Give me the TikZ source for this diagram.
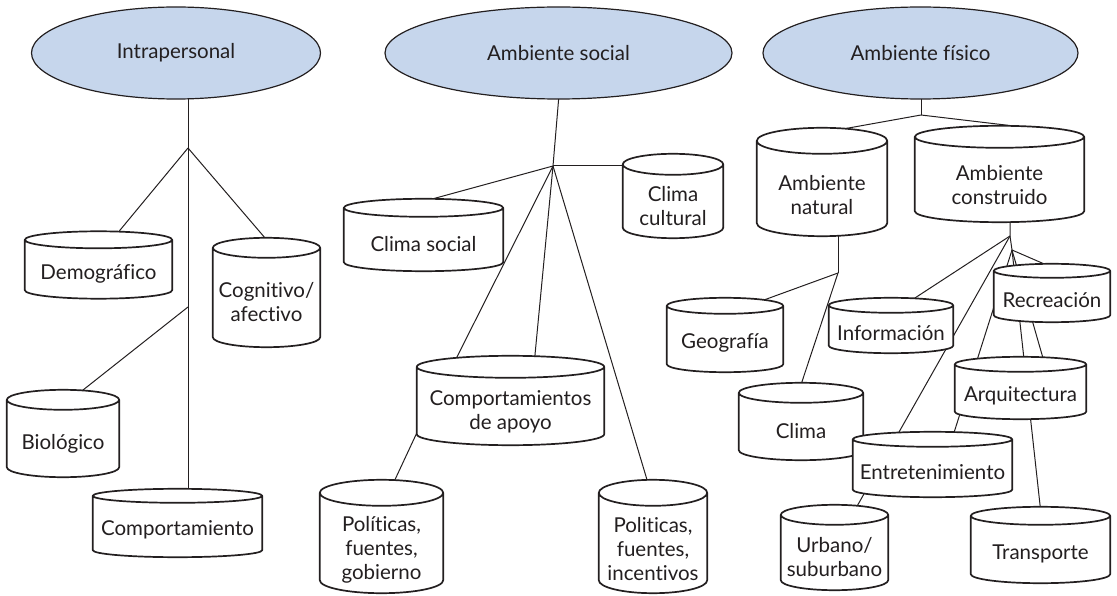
\documentclass[tikz,border=0pt]{standalone}
\usepackage{fontspec}
\setmainfont{Lato}[Ligatures=NoCommon]
\usetikzlibrary{shapes.geometric,calc}
\pgfdeclarelayer{edges}
\pgfdeclarelayer{bodies}
\pgfsetlayers{edges,bodies,main}
\definecolor{ellfill}{RGB}{198,214,236}
\definecolor{ink}{RGB}{35,31,32}
\tikzset{
  head/.style={ellipse, draw=ink, line width=1.2pt, fill=ellfill, inner sep=0pt,
    font=\fontsize{20.5}{24}\selectfont, text=ink},
  cylbox/.style={rectangle, inner sep=0pt, align=center,
    font=\fontsize{20.5}{24}\selectfont, text=ink},
  cylline/.style={draw=ink, line width=1.7pt, fill=white, line join=round},
  link/.style={draw=ink, line width=1.0pt},
}
% name, ry : draws the cylinder outline around a body node
\newcommand\cylout[2]{%
  \path[cylline] let \p1=(#1.north west), \p2=(#1.south east), \n1={(\x2-\x1)/2} in
    (\x1,\y1+#2pt) -- (\x1,\y2+#2pt)
    arc[start angle=180,end angle=360,x radius=\n1,y radius=#2pt]
    -- (\x2,\y1+#2pt)
    arc[start angle=0,end angle=180,x radius=\n1,y radius=#2pt] -- cycle
    (\x1,\y1+#2pt) arc[start angle=180,end angle=360,x radius=\n1,y radius=#2pt];
}
\begin{document}
\begin{tikzpicture}[x=1pt,y=1pt]
\useasboundingbox (0,0) rectangle (1117,-596);

% top ellipses
\node[head, minimum width=289pt, minimum height=92pt] (intra) at (176,-53) {Intrapersonal};
\node[head, minimum width=347pt, minimum height=92pt] (asoc) at (558.5,-53) {Ambiente social};
\node[head, minimum width=315pt, minimum height=92pt] (afis) at (920.5,-53) {Ambiente físico};

% cylinder bodies (text)
\node[cylbox, minimum width=147pt, minimum height=50pt] (demo) at (98.5,-273.5) {Demográfico};
\node[cylbox, minimum width=107pt, minimum height=89pt] (cogn) at (266.5,-302.5) {Cognitivo/\\afectivo};
\node[cylbox, minimum width=112pt, minimum height=67pt] (bio) at (63,-443.5) {Biológico};
\node[cylbox, minimum width=169pt, minimum height=54pt] (comp) at (177.5,-530) {Comportamiento};
\node[cylbox, minimum width=159pt, minimum height=54pt] (csoc) at (423.5,-244) {Clima social};
\node[cylbox, minimum width=100pt, minimum height=63pt] (ccult) at (673,-206.5) {Clima\\cultural};
\node[cylbox, minimum width=187pt, minimum height=67pt] (cda) at (510.5,-411.5) {Comportamientos\\de apoyo};
\node[cylbox, minimum width=123pt, minimum height=87pt] (pgob) at (381.5,-549.5) {Políticas,\\fuentes,\\gobierno};
\node[cylbox, minimum width=108pt, minimum height=87pt] (pinc) at (653,-549.5) {Politicas,\\fuentes,\\incentivos};
\node[cylbox, minimum width=130pt, minimum height=82pt] (anat) at (822,-195) {Ambiente\\natural};
\node[cylbox, minimum width=169pt, minimum height=74pt] (acons) at (999.5,-185) {Ambiente\\construido};
\node[cylbox, minimum width=116pt, minimum height=58pt] (geo) at (725,-343) {Geografía};
\node[cylbox, minimum width=124pt, minimum height=57pt] (clima) at (801,-431.5) {Clima};
\node[cylbox, minimum width=124pt, minimum height=40pt] (info) at (891,-333) {Información};
\node[cylbox, minimum width=116pt, minimum height=44pt] (recr) at (1052,-300) {Recreación};
\node[cylbox, minimum width=131pt, minimum height=47pt] (arq) at (1020.5,-395.5) {Arquitectura};
\node[cylbox, minimum width=159pt, minimum height=50pt] (entr) at (932.5,-472) {Entretenimiento};
\node[cylbox, minimum width=107pt, minimum height=65pt] (urb) at (834.5,-557.5) {Urbano/\\suburbano};
\node[cylbox, minimum width=139pt, minimum height=58pt] (transp) at (1040.5,-554) {Transporte};

% branching points
\coordinate (h1) at (188,-148);
\coordinate (h2) at (188,-307);
\coordinate (h3) at (553,-166);
\coordinate (h4) at (921,-115);
\coordinate (h5) at (838,-273);
\coordinate (h6) at (1010,-236);
\coordinate (h7) at (1012,-250);

\begin{pgfonlayer}{bodies}
\cylout{demo}{8.5}
\cylout{cogn}{10}
\cylout{bio}{10}
\cylout{comp}{7}
\cylout{csoc}{9}
\cylout{ccult}{10.5}
\cylout{cda}{11}
\cylout{pgob}{13}
\cylout{pinc}{13}
\cylout{anat}{13}
\cylout{acons}{11}
\cylout{geo}{8}
\cylout{clima}{10}
\cylout{info}{7.5}
\cylout{recr}{7}
\cylout{arq}{7.5}
\cylout{entr}{7.5}
\cylout{urb}{10}
\cylout{transp}{9}
\end{pgfonlayer}

\begin{pgfonlayer}{edges}
% Intrapersonal
\draw[link] (h1 |- intra.center) -- (h1 |- comp.center);
\draw[link] (h1) -- ([xshift=6.5pt]demo.north);
\draw[link] (h1) -- ([xshift=15.5pt]cogn.north);
\draw[link] (h2) -- ([xshift=-5pt]bio.north);
% Ambiente social
\draw[link] ([xshift=4pt]asoc.center) -- (h3);
\draw[link] (h3) -- (h3 -| ccult.center);
\draw[link] (h3) -- ([xshift=-56.5pt]csoc.north);
\draw[link] (h3) -- ([xshift=-64pt]cda.north);
\draw[link] (h3) -- ([xshift=22.3pt]cda.north);
\draw[link] (h3) -- ([xshift=1.8pt]pinc.north);
\draw[link] ([xshift=10pt]cda.west) -- ([xshift=1.3pt]pgob.north);
% Ambiente fisico
\draw[link] (h4 |- afis.center) -- (h4);
\draw[link] (h4) -- ([xshift=11pt,yshift=23pt]anat.north);
\draw[link] (h4) -- ([xshift=29.5pt,yshift=20pt]acons.north);
\draw[link] (h5 |- anat.center) -- (h5);
\draw[link] (h5) -- ([xshift=23pt,yshift=8pt]geo.north);
\draw[link] (h5) -- ([xshift=-6pt]clima.north);
\draw[link] (h6 |- acons.center) -- (h6) -- (h7);
\draw[link] (h6) -- ([xshift=12.7pt,yshift=7.5pt]info.north);
\draw[link] (h6) -- ([xshift=12pt]urb.north);
\draw[link] (h7) -- ([xshift=8pt,yshift=7pt]recr.north);
\draw[link] (h7) -- ([xshift=1.7pt]transp.north);
\draw[link] (h7) -- ([xshift=26.4pt]arq.north);
\draw[link] (h7) -- ([xshift=17pt]entr.north);
\end{pgfonlayer}
\end{tikzpicture}
\end{document}
